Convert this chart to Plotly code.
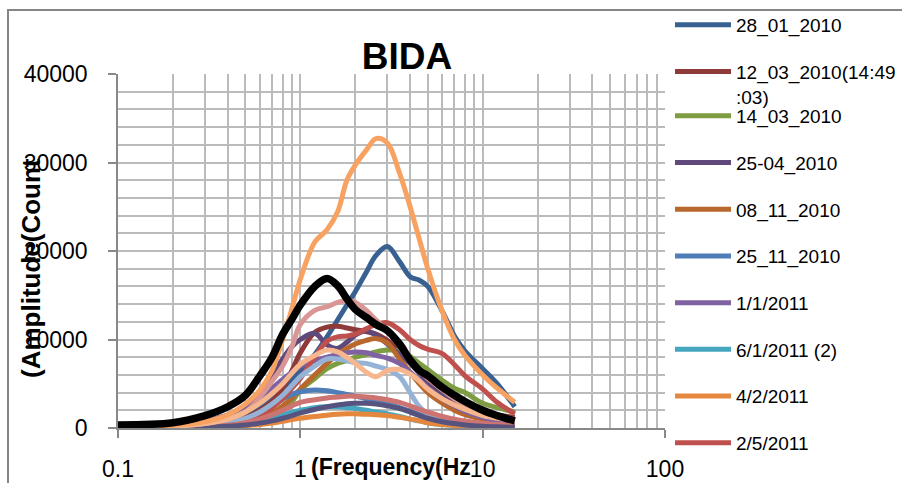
import plotly.graph_objects as go

# ---------------- data ----------------
FREQ = [0.1, 0.2, 0.3, 0.4, 0.5, 0.6, 0.7, 0.8, 0.9, 1.0, 1.2, 1.4, 1.6, 1.8, 2.0,
        2.3, 2.6, 3.0, 3.5, 4.0, 4.5, 5.0, 6.0, 7.0, 8.0, 10, 12, 15]

s_28_01_2010 = [50, 150, 450, 900, 1600, 2500, 3500, 4500, 5500, 6500, 8300, 10300, 12200, 13900, 15400,
                17600, 19500, 20500, 18800, 17100, 16700, 16000, 13200, 10400, 8700, 6700, 5000, 2400]
s_12_03_2010 = [50, 150, 350, 700, 1200, 2000, 3000, 4500, 6500, 8500, 10800, 11400, 11500, 11300, 11100,
                10900, 10600, 9900, 8800, 7500, 6300, 5300, 4000, 3200, 2600, 1900, 1500, 1200]
s_14_03_2010 = [20, 80, 200, 400, 700, 1000, 1500, 2200, 3000, 4300, 5600, 6700, 7300, 7600, 8000,
                8300, 8600, 8800, 8700, 8100, 7300, 6600, 5400, 4500, 4000, 2800, 2300, 1800]
s_25_04_2010 = [100, 400, 800, 1400, 2200, 3800, 6000, 7800, 9200, 10000, 10700, 9400, 9000, 9700, 10500,
                11000, 10500, 9500, 8300, 7300, 6200, 5100, 3700, 2700, 2000, 1300, 900, 600]
s_08_11_2010 = [20, 80, 200, 400, 700, 1100, 1700, 2500, 3400, 4400, 6000, 7300, 8300, 9000, 9500,
                9900, 10100, 9600, 7800, 6300, 5000, 4000, 2800, 2000, 1500, 1000, 700, 500]
s_25_11_2010 = [20, 80, 200, 500, 1000, 1700, 2500, 3300, 3800, 4100, 4300, 4200, 4000, 3800, 3600,
                3300, 3000, 2700, 2300, 1900, 1500, 1200, 800, 600, 400, 250, 150, 100]
s_1_1_2011 = [100, 350, 800, 1500, 2400, 3400, 4500, 5500, 6300, 7000, 7600, 8000, 8300, 8500, 8600,
              8500, 8200, 7900, 7300, 6300, 5400, 4500, 3300, 2500, 1900, 1200, 800, 500]
s_6_1_2011_2 = [20, 60, 150, 300, 500, 800, 1100, 1500, 1800, 2000, 2300, 2400, 2400, 2300, 2200,
                2000, 1800, 1600, 1300, 1000, 800, 600, 400, 300, 200, 150, 100, 80]
s_4_2_2011 = [10, 30, 80, 150, 250, 400, 550, 750, 950, 1100, 1300, 1450, 1550, 1600, 1600,
              1550, 1500, 1400, 1200, 1000, 800, 600, 400, 300, 200, 120, 80, 50]
s_2_5_2011 = [30, 100, 250, 500, 900, 1500, 2300, 3300, 4500, 5600, 8000, 9800, 10300, 10400, 10600,
              11200, 11700, 11900, 11100, 10000, 9300, 8900, 8400, 7150, 5900, 4400, 2900, 1600]
# further series (not visible in the cropped legend)
s_light_blue = [30, 100, 300, 600, 1100, 1800, 2700, 3700, 4800, 5800, 7000, 7800, 7800, 7600, 7400,
                7300, 7000, 6600, 5800, 4000, 2400, 1600, 1000, 600, 400, 250, 150, 100]
s_rose_low = [20, 60, 150, 300, 600, 1000, 1500, 2000, 2500, 2900, 3200, 3400, 3500, 3600, 3600,
              3500, 3400, 3200, 2900, 2500, 2100, 1800, 1300, 1000, 800, 500, 400, 300]
s_navy_low = [10, 40, 100, 200, 350, 550, 800, 1100, 1400, 1700, 2100, 2400, 2600, 2750, 2800,
              2800, 2700, 2500, 2200, 1800, 1400, 1100, 700, 500, 350, 200, 130, 80]
s_pink = [50, 200, 500, 1000, 1800, 3500, 5300, 7000, 9200, 11700, 13300, 13700, 14200, 14400, 14200,
          13300, 12200, 11000, 9600, 7800, 6500, 5600, 4300, 3300, 2600, 1800, 1400, 1000]
s_peach = [50, 200, 500, 1000, 1800, 2800, 3900, 5000, 6200, 7200, 8200, 8800, 8600, 8000, 7300,
           6300, 5800, 6500, 6600, 6100, 5300, 4400, 3300, 2600, 2100, 1400, 1100, 900]
s_light_orange = [100, 300, 700, 1500, 2700, 4300, 6500, 10000, 13500, 16800, 21000, 22400, 24400, 28000, 29700,
                  31400, 32700, 32200, 28800, 25000, 21300, 18000, 13200, 10000, 8200, 6000, 4500, 2900]
s_mean = [350, 600, 1400, 2400, 3700, 5900, 8000, 10600, 12300, 13900, 16000, 16900, 16100, 14600, 13400,
          12500, 11700, 11000, 9500, 7700, 6500, 5900, 4600, 3700, 3000, 2000, 1400, 800]

LEGEND_NAMES = ["28_01_2010", "12_03_2010(14:49<br>:03)", "14_03_2010", "25-04_2010", "08_11_2010",
                "25_11_2010", "1/1/2011", "6/1/2011 (2)", "4/2/2011", "2/5/2011"]
LEGEND_VALUES = [s_28_01_2010, s_12_03_2010, s_14_03_2010, s_25_04_2010, s_08_11_2010,
                 s_25_11_2010, s_1_1_2011, s_6_1_2011_2, s_4_2_2011, s_2_5_2011]
LEGEND_COLORS = ["#386192", "#8E3A38", "#7E9D43", "#5F497A", "#B8682C",
                 "#4F7DB8", "#7F62A1", "#46A6C0", "#E5883E", "#C0504D"]

EXTRA_VALUES = [s_light_blue, s_rose_low, s_navy_low, s_pink, s_peach, s_light_orange]
EXTRA_COLORS = ["#95B3D7", "#CD7371", "#56547E", "#D99694", "#F7B78E", "#F8A262"]

XTICK_VALS = [0.1, 1, 10, 100]
XTICK_TEXT = ["0.1", "1", "10", "100"]
YTICK_VALS = [0, 10000, 20000, 30000, 40000]
YTICK_TEXT = ["0", "10000", "20000", "30000", "40000"]

TITLE = "BIDA"
X_TITLE = "(Frequency(Hz"
Y_TITLE = "(Amplitude(Count"

# ---------------- figure ----------------
FONT = "Liberation Sans"
W, H = 902, 483
L, R, T, B = 118, 237, 74, 55
PW, PH = W - L - R, H - T - B


def px_x(p):
    return (p - L) / PW


def px_y(p):
    return (H - B - p) / PH


fig = go.Figure()
for i, (name, vals, col) in enumerate(zip(LEGEND_NAMES, LEGEND_VALUES, LEGEND_COLORS)):
    fig.add_trace(go.Scatter(
        x=FREQ, y=vals, mode="lines", name=name,
        line=dict(color=col, width=5, shape="spline"),
        legend="legend" if i < 2 else "legend2",
        legendgroup=f"g{i}", hoverinfo="skip"))
for vals, col in zip(EXTRA_VALUES, EXTRA_COLORS):
    fig.add_trace(go.Scatter(
        x=FREQ, y=vals, mode="lines", showlegend=False,
        line=dict(color=col, width=5, shape="spline"), hoverinfo="skip"))
fig.add_trace(go.Scatter(
    x=FREQ, y=s_mean, mode="lines", showlegend=False,
    line=dict(color="black", width=7.5, shape="spline"), hoverinfo="skip"))

GRID = "#BBBBBB"
AX = "#888888"
legend_common = dict(
    font=dict(family=FONT, size=19, color="black"),
    bgcolor="rgba(0,0,0,0)", borderwidth=0,
    itemwidth=56, tracegroupgap=19, valign="top",
    xanchor="left", yanchor="top", xref="paper", yref="paper",
    itemclick=False, itemdoubleclick=False, maxheight=480,
)

fig.update_layout(
    width=W, height=H,
    margin=dict(l=L, r=R, t=T, b=B, autoexpand=False),
    paper_bgcolor="white", plot_bgcolor="white",
    font=dict(family=FONT, color="black"),
    title=dict(text=f"<b>{TITLE}</b>", x=px_x(407), xref="paper", xanchor="center",
               y=1 - 56 / H, yref="container", yanchor="middle",
               font=dict(family=FONT, size=37, color="black")),
    legend=dict(x=px_x(670), y=px_y(6), **legend_common),
    legend2=dict(x=px_x(670), y=px_y(97), **legend_common),
    xaxis=dict(
        type="log", range=[-1, 2],
        tickmode="array", tickvals=XTICK_VALS, ticktext=XTICK_TEXT,
        ticks="outside", ticklen=8, tickwidth=1.5, tickcolor=AX,
        ticklabelstandoff=12,
        tickfont=dict(family=FONT, size=23, color="black"),
        showgrid=True, gridcolor=GRID, gridwidth=2,
        minor=dict(dtick="D1", showgrid=True, gridcolor=GRID, gridwidth=2, ticks=""),
        showline=True, linecolor=AX, linewidth=1.5, zeroline=False, mirror=False,
    ),
    yaxis=dict(
        range=[0, 40000],
        tickmode="array", tickvals=YTICK_VALS, ticktext=YTICK_TEXT,
        ticks="outside", ticklen=8, tickwidth=1.5, tickcolor=AX,
        ticklabelstandoff=16,
        tickfont=dict(family=FONT, size=23, color="black"),
        showgrid=True, gridcolor=GRID, gridwidth=2,
        minor=dict(dtick=2000, showgrid=True, gridcolor=GRID, gridwidth=2, ticks=""),
        showline=True, linecolor=AX, linewidth=1.5, zeroline=False,
    ),
    annotations=[
        dict(text=f"<b>{X_TITLE}</b>", x=px_x(391), y=px_y(467), xref="paper", yref="paper",
             xanchor="center", yanchor="middle", showarrow=False,
             font=dict(family=FONT, size=23, color="black")),
        dict(text=f"<b>{Y_TITLE}</b>", x=px_x(31), y=px_y(268), xref="paper", yref="paper",
             xanchor="center", yanchor="middle", showarrow=False, textangle=-90,
             font=dict(family=FONT, size=26, color="black")),
    ],
    shapes=[
        dict(type="rect", xref="paper", yref="paper",
             x0=px_x(8), x1=px_x(960), y0=px_y(540), y1=px_y(10),
             line=dict(color="#868686", width=2), fillcolor="rgba(0,0,0,0)", layer="below"),
    ],
)

fig.write_html("out.html")
